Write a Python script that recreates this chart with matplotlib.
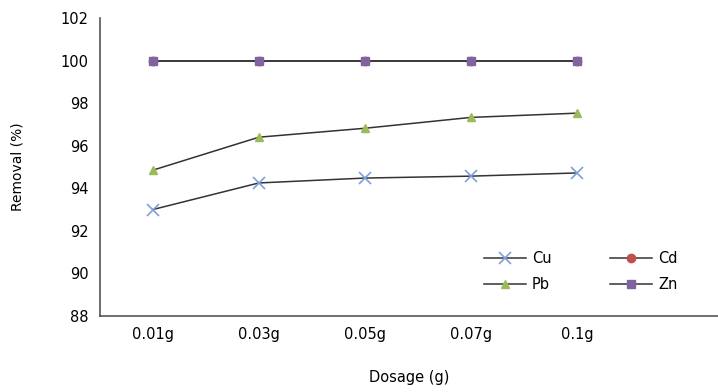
import numpy as np
import matplotlib
matplotlib.use("Agg")
import matplotlib.pyplot as plt

# data
dosages = ["0.01g", "0.03g", "0.05g", "0.07g", "0.1g"]
cu = [93.0, 94.25, 94.48, 94.57, 94.72]
cd = [100.0, 100.0, 100.0, 100.0, 100.0]
pb = [94.85, 96.4, 96.82, 97.33, 97.53]
zn = [100.0, 100.0, 100.0, 100.0, 100.0]

plt.rcParams['font.family'] = ['DejaVu Sans']

fig = plt.figure(figsize=(7.18, 3.92), dpi=100)
ax = fig.add_axes([0.139, 0.194, 0.861, 0.76])

x = np.arange(len(dosages))
line_color = '#333333'

h_cu, = ax.plot(x, cu, color=line_color, lw=1.1, marker='x', ms=8, mew=1.2,
                mec='#7da0d8', label='Cu')
h_cd, = ax.plot(x, cd, color=line_color, lw=1.1, marker='o', ms=6,
                mfc='#c0504d', mec='#c0504d', label='Cd')
h_pb, = ax.plot(x, pb, color=line_color, lw=1.1, marker='^', ms=6,
                mfc='#9bbb59', mec='#9bbb59', label='Pb')
h_zn, = ax.plot(x, zn, color=line_color, lw=1.1, marker='s', ms=6,
                mfc='#8064a2', mec='#8064a2', label='Zn')

ax.set_xlim(-0.5, 5.33)
ax.set_ylim(88, 102)
ax.set_yticks(np.arange(88, 103, 2))
ax.set_xticks(x)
ax.set_xticklabels(dosages)
ax.tick_params(axis='both', length=0, labelsize=10.5, pad=8)

for side in ['top', 'right']:
    ax.spines[side].set_visible(False)
for side in ['left', 'bottom']:
    ax.spines[side].set_color('#555555')
    ax.spines[side].set_linewidth(1.2)

ax.set_ylabel('Removal (%)', fontsize=10, labelpad=26)
ax.set_xlabel('Dosage (g)', fontsize=10.5, labelpad=20)

# order so that the two-column legend reads Cu Cd / Pb Zn row by row
ax.legend([h_cu, h_pb, h_cd, h_zn], ['Cu', 'Pb', 'Cd', 'Zn'],
          ncol=2, loc='lower left', bbox_to_anchor=(0.6, 0.035),
          frameon=False, fontsize=10.5, handlelength=2.9,
          handletextpad=0.4, columnspacing=4.0, labelspacing=0.75)

fig.savefig('out.png', dpi=100)
